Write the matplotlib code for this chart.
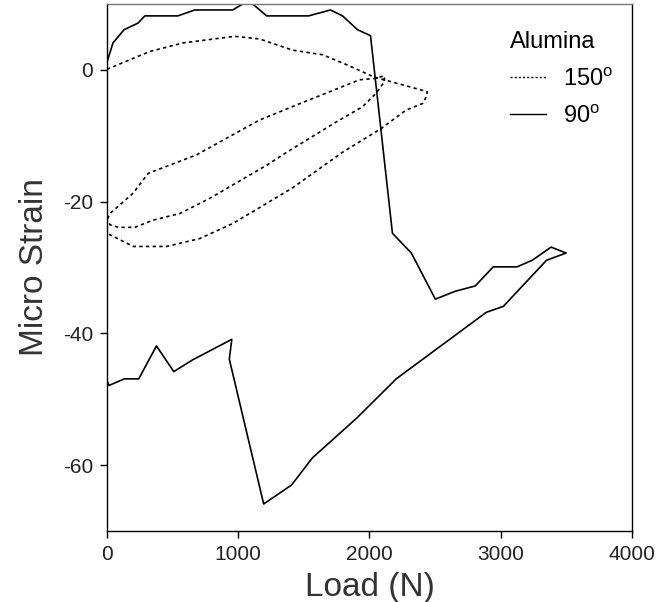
import matplotlib
matplotlib.use("Agg")
import matplotlib.pyplot as plt
from matplotlib.lines import Line2D

plt.rcParams['font.family'] = ['Liberation Sans', 'DejaVu Sans']
plt.rcParams['mathtext.fontset'] = 'custom'
plt.rcParams['mathtext.rm'] = 'Liberation Sans'
plt.rcParams['axes.unicode_minus'] = False

# 90 degree loop (solid)
load_90 = [0, 46, 130, 236, 289, 540, 669, 958, 1034, 1110, 1217, 1536, 1703, 1795,
           1909, 2008, 2175, 2319, 2502, 2654, 2806, 2943, 3125, 3240, 3384, 3498,
           3349, 3020, 2890, 2204, 1906, 1565, 1407, 1194, 932, 951, 654, 509, 377,
           242, 132, 16, 0, 0]
strain_90 = [1.2, 4.1, 6.1, 7.1, 8.2, 8.2, 9.1, 9.1, 10.0, 10.0, 8.2, 8.2, 9.1, 8.2,
             6.1, 5.2, -24.8, -27.8, -34.8, -33.6, -32.8, -29.9, -29.9, -28.9, -26.9, -27.8,
             -28.9, -35.9, -36.8, -46.9, -52.8, -58.9, -63.0, -65.9, -43.9, -40.9, -44.0,
             -45.8, -41.9, -46.9, -46.9, -47.9, -47.2, 1.2]

# 150 degree loops (dotted)
load_150 = [0, 327, 580, 973, 1163, 1414, 1643, 1825, 2038, 2441, 2433, 2405, 2279,
            2089, 1795, 1414, 1163, 960, 707, 454, 200, 0, 0, 23, 200, 314, 682, 1163,
            1460, 1924, 2038, 2114, 2114, 2053, 1947, 1747, 1354, 1214, 783, 555, 352,
            213, 86, 23, 0]
strain_150 = [0.1, 2.8, 4.1, 5.1, 4.7, 3.0, 2.3, 0.8, -1.1, -3.3, -4.1, -5.1, -6.1,
              -8.9, -12.5, -17.9, -20.9, -23.3, -25.6, -26.8, -26.8, -24.8, -22.8, -21.8,
              -18.7, -15.7, -12.9, -7.6, -5.2, -1.5, -1.3, -0.9, -1.8, -3.5, -5.6, -7.9,
              -12.7, -14.5, -19.5, -21.8, -22.8, -23.9, -23.9, -23.5, -22.8]

x_ticks = [0, 1000, 2000, 3000, 4000]
y_ticks = [0, -20, -40, -60]

fig = plt.figure(figsize=(6.62, 6.02), dpi=100)
ax = fig.add_axes([0.1616, 0.1179, 0.793, 0.8754])

ax.plot(load_150, strain_150, color='black', lw=1.2, linestyle=(0, (2, 2)))
ax.plot(load_90, strain_90, color='black', lw=1.2)

ax.set_xlim(0, 4000)
ax.set_ylim(-70, 10)
ax.set_xticks(x_ticks)
ax.set_yticks(y_ticks)
ax.tick_params(direction='out', length=5, width=1, labelsize=15, pad=5,
               labelcolor='#222222')
ax.spines['top'].set_color('#777777')
for s in ax.spines.values():
    s.set_linewidth(1)

ax.set_xlabel('Load (N)', fontsize=24, color='#333333', labelpad=6)
ax.set_ylabel('Micro Strain', fontsize=24, color='#333333', labelpad=9)

handles = [Line2D([], [], color='black', lw=1, linestyle=(0, (1.5, 1.5))),
           Line2D([], [], color='black', lw=1)]
leg = ax.legend(handles, ['150$^\\mathrm{o}$', '90$^\\mathrm{o}$'], title='Alumina',
                loc='upper left', bbox_to_anchor=(0.768, 0.948), frameon=False,
                fontsize=17, title_fontsize=17, handlelength=1.5, handletextpad=0.75,
                labelspacing=0.6, borderpad=0, borderaxespad=0, alignment='left')

fig.savefig('out.png', dpi=100)
